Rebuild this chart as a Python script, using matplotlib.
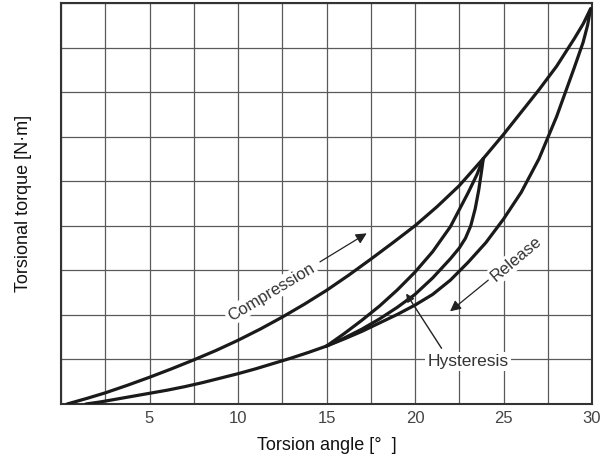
import matplotlib
matplotlib.use("Agg")
import matplotlib.pyplot as plt

plt.rcParams['font.family'] = ['Liberation Sans', 'DejaVu Sans']

# curves (torsion angle [deg], torque in grid units)
comp_x = [0.35, 1.5, 2.5, 3.75, 5.0, 6.25, 7.5, 8.75, 10.0, 11.25, 12.5, 13.75, 15.0, 16.25,
          17.5, 18.75, 20.0, 21.25, 22.5, 23.86, 25.0, 26.0, 27.0, 28.0, 29.0, 29.5, 29.92]
comp_y = [0.0, 0.13, 0.25, 0.42, 0.6, 0.79, 0.99, 1.2, 1.43, 1.68, 1.95, 2.24, 2.55, 2.89,
          3.25, 3.62, 4.0, 4.43, 4.9, 5.51, 6.05, 6.55, 7.05, 7.58, 8.2, 8.53, 8.87]

release_x = [29.92, 29.75, 29.5, 29.0, 28.0, 27.0, 26.0, 25.0, 24.0, 23.0, 22.0, 21.0, 20.0, 19.0,
             18.0, 17.0, 16.0, 15.0, 14.0, 13.0, 12.0, 11.0, 10.0, 9.0, 8.0, 7.0, 6.0, 5.0, 4.0,
             3.0, 2.2, 1.41]
release_y = [8.87, 8.5, 8.12, 7.55, 6.45, 5.5, 4.75, 4.15, 3.62, 3.18, 2.78, 2.46, 2.22, 2.01,
             1.82, 1.63, 1.46, 1.3, 1.16, 1.03, 0.91, 0.79, 0.68, 0.58, 0.48, 0.39, 0.31, 0.24, 0.17,
             0.1, 0.045, 0.0]

reload_x = [15.0, 16.0, 17.0, 18.0, 19.0, 20.0, 21.0, 22.0, 23.0, 23.5, 23.86]
reload_y = [1.3, 1.58, 1.88, 2.2, 2.56, 2.96, 3.42, 3.98, 4.74, 5.15, 5.51]

inner_rel_x = [23.86, 23.75, 23.6, 23.4, 23.15, 22.85, 22.5, 22.0, 21.0, 20.0, 19.0, 18.0, 17.0, 16.0, 15.0]
inner_rel_y = [5.51, 5.2, 4.8, 4.38, 4.0, 3.72, 3.5, 3.26, 2.83, 2.46, 2.17, 1.91, 1.68, 1.48, 1.3]

grid_x = [i * 2.5 for i in range(13)]
tick_labels = ['' if v % 5 or v == 0 else str(int(v)) for v in grid_x]
grid_y = list(range(10))

fig = plt.figure(figsize=(6.15, 4.55), dpi=100)
ax = fig.add_axes([0.0992, 0.1121, 0.8634, 0.8813])

for xs, ys in [(comp_x, comp_y), (release_x, release_y), (reload_x, reload_y), (inner_rel_x, inner_rel_y)]:
    ax.plot(xs, ys, color='#1a1a1a', lw=2.3, solid_capstyle='round', solid_joinstyle='round', zorder=3)

ax.set_xlim(0, 30)
ax.set_ylim(0, 9)
ax.set_xticks(grid_x)
ax.set_xticklabels(tick_labels)
ax.set_yticks(grid_y)
ax.set_yticklabels([])
ax.tick_params(length=0, pad=5, labelsize=12, labelcolor='#444444')
ax.grid(True, color='#5a5a5a', lw=0.9)
ax.set_axisbelow(True)
for s in ax.spines.values():
    s.set_linewidth(1.5)
    s.set_color('#333333')

ax.set_xlabel('Torsion angle [°  ]', fontsize=13, labelpad=8, color='#111111')
ax.set_ylabel('Torsional torque [N·m]', fontsize=13, labelpad=16, color='#111111')

box = dict(facecolor='white', edgecolor='none', pad=1.5)
arrow = dict(arrowstyle='-|>', color='#222222', lw=0.9, mutation_scale=16, shrinkA=0, shrinkB=0)

ax.text(11.86, 2.51, 'Compression', rotation=31, ha='center', va='center',
        fontsize=12, color='#333333', bbox=box, zorder=4)
ax.annotate('', xy=(17.27, 3.83), xytext=(14.63, 3.19), arrowprops=arrow, zorder=4)

ax.text(25.69, 3.25, 'Release', rotation=40, ha='center', va='center',
        fontsize=12, color='#333333', bbox=box, zorder=4)
ax.annotate('', xy=(21.98, 2.08), xytext=(24.14, 2.78), arrowprops=arrow, zorder=4)

ax.text(23.0, 0.95, 'Hysteresis', ha='center', va='center',
        fontsize=12.5, color='#333333', bbox=box, zorder=4)
ax.annotate('', xy=(19.5, 2.48), xytext=(21.5, 1.25),
            arrowprops=dict(arrowstyle='-|>', color='#222222', lw=1.0, mutation_scale=12,
                            shrinkA=0, shrinkB=0), zorder=4)

fig.savefig('out.png', dpi=100)
